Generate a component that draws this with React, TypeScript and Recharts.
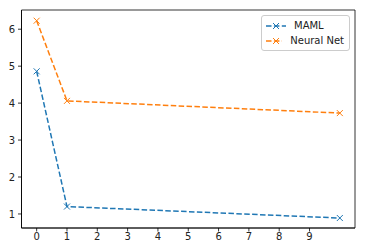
import React from "react";
import { LineChart, Line, XAxis, YAxis, Legend, ReferenceArea } from "recharts";

const xValues = [0, 1, 10];
const mamlValues = [4.86, 1.2, 0.89];
const neuralNetValues = [6.23, 4.06, 3.73];
const xTicks = [0, 1, 2, 3, 4, 5, 6, 7, 8, 9];
const yTicks = [1, 2, 3, 4, 5, 6];

const seriesNames = ["MAML", "Neural Net"];
const colors = ["#1f77b4", "#ff7f0e"];

const xDomain: [number, number] = [-0.5, 10.5];
const yDomain: [number, number] = [0.62, 6.52];

const data = xValues.map((x, i) => ({
  x,
  maml: mamlValues[i],
  nn: neuralNetValues[i],
}));

const tickStyle = {
  fontSize: 10,
  fill: "#222",
  fontFamily: "DejaVu Sans, sans-serif",
} as const;

const crossDot = (color: string) => (props: any) => {
  const { cx, cy, key } = props;
  if (cx == null || cy == null) return <g key={key} />;
  return (
    <path
      key={key}
      d={`M${cx - 3},${cy - 3}L${cx + 3},${cy + 3}M${cx - 3},${cy + 3}L${cx + 3},${cy - 3}`}
      stroke={color}
      strokeWidth={1}
      fill="none"
    />
  );
};

function LegendBox() {
  return (
    <div
      style={{
        background: "rgba(255,255,255,0.8)",
        border: "1px solid #ccc",
        borderRadius: 3,
        padding: "2px 5px 2px 4px",
        fontFamily: "DejaVu Sans, sans-serif",
        fontSize: 10,
        color: "#222",
        lineHeight: "15px",
        whiteSpace: "nowrap",
        boxSizing: "border-box",
        width: 89,
      }}
    >
      {seriesNames.map((name, i) => (
        <div key={name} style={{ display: "flex", alignItems: "center" }}>
          <svg width={20} height={10} style={{ marginRight: 8 }}>
            <line x1={0} y1={5} x2={20} y2={5} stroke={colors[i]} strokeWidth={1.5} strokeDasharray="5.5 2.4" />
            <path d="M7,2L13,8M7,8L13,2" stroke={colors[i]} strokeWidth={1} />
          </svg>
          <span>{name}</span>
        </div>
      ))}
    </div>
  );
}

export default function App() {
  return (
    <div style={{ position: "fixed", left: 0, top: 0, width: 366, height: 252, background: "#fff" }}>
      <LineChart width={366} height={252} data={data} margin={{ top: 10, right: 11, bottom: 0, left: 0 }}>
        <XAxis
          dataKey="x"
          type="number"
          domain={xDomain}
          ticks={xTicks}
          interval={0}
          allowDataOverflow
          height={24}
          tickSize={3.5}
          tickMargin={1.5}
          tick={tickStyle}
          axisLine={{ stroke: "#000", strokeWidth: 0.8 }}
          tickLine={{ stroke: "#000", strokeWidth: 0.8 }}
        />
        <YAxis
          type="number"
          domain={yDomain}
          ticks={yTicks}
          interval={0}
          allowDataOverflow
          width={21.5}
          tickSize={3.5}
          tickMargin={3}
          tick={tickStyle}
          axisLine={{ stroke: "#000", strokeWidth: 0.8 }}
          tickLine={{ stroke: "#000", strokeWidth: 0.8 }}
        />
        <ReferenceArea
          x1={xDomain[0]}
          x2={xDomain[1]}
          y1={yDomain[0]}
          y2={yDomain[1]}
          fill="none"
          stroke="#000"
          strokeWidth={0.8}
          ifOverflow="visible"
        />
        <Legend
          verticalAlign="middle"
          align="center"
          layout="vertical"
          wrapperStyle={{ top: 15, left: 261, width: 89 }}
          content={() => <LegendBox />}
        />
        <Line
          dataKey="maml"
          name={seriesNames[0]}
          stroke={colors[0]}
          strokeWidth={1.5}
          strokeDasharray="5.5 2.4"
          type="linear"
          dot={crossDot(colors[0])}
          activeDot={false}
          isAnimationActive={false}
        />
        <Line
          dataKey="nn"
          name={seriesNames[1]}
          stroke={colors[1]}
          strokeWidth={1.5}
          strokeDasharray="5.5 2.4"
          type="linear"
          dot={crossDot(colors[1])}
          activeDot={false}
          isAnimationActive={false}
        />
      </LineChart>
    </div>
  );
}
